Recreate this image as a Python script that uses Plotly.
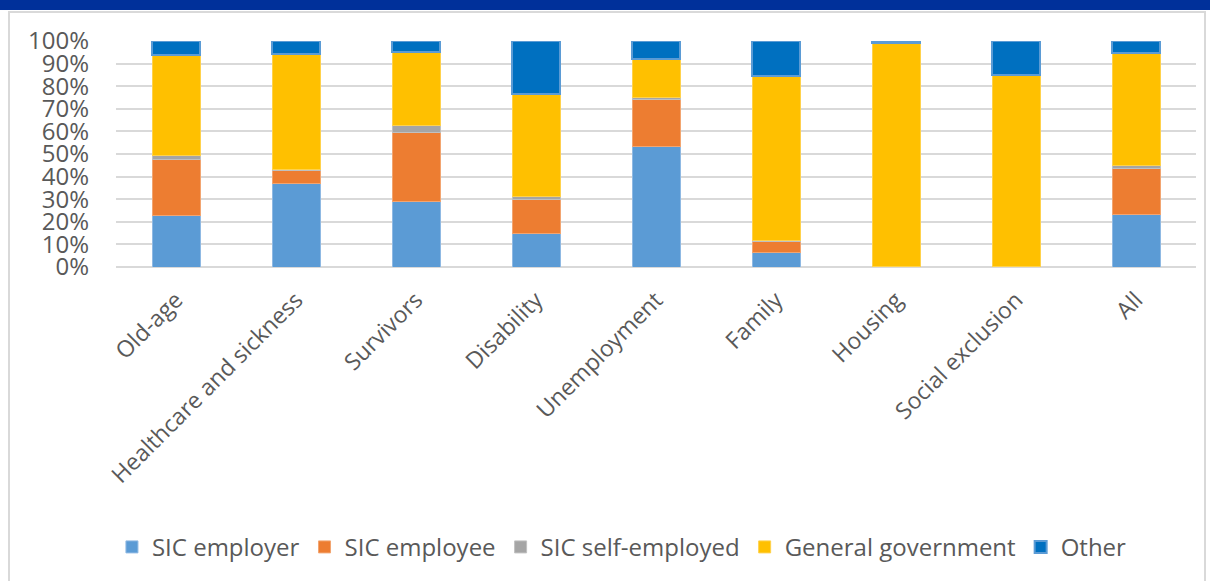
import plotly.graph_objects as go

categories = ["Old-age", "Healthcare and sickness", "Survivors", "Disability",
              "Unemployment", "Family", "Housing", "Social exclusion", "All"]

sic_employer = [23.0, 36.9, 28.8, 14.8, 53.4, 6.2, 0.1, 0.1, 23.2]
sic_employee = [24.6, 5.9, 30.9, 15.0, 20.7, 4.9, 0.2, 0.1, 20.3]
sic_self_employed = [1.8, 0.2, 2.7, 1.6, 1.1, 0.6, 0.0, 0.0, 1.5]
general_government = [44.3, 51.1, 32.7, 45.0, 16.7, 72.7, 99.0, 84.9, 49.7]
other = [6.3, 5.9, 4.9, 23.6, 8.1, 15.6, 0.7, 14.9, 5.3]

series = [
    ("SIC employer", sic_employer, "#5B9BD5", "#8FB9E3", 1),
    ("SIC employee", sic_employee, "#ED7D31", "#F2A571", 1),
    ("SIC self-employed", sic_self_employed, "#A5A5A5", "#C0C0C0", 1),
    ("General government", general_government, "#FFC000", "#FFD24D", 1),
    ("Other", other, "#0070C0", "#5B9BD5", 2),
]

fig = go.Figure()
for name, vals, color, lc, lw in series:
    fig.add_trace(go.Bar(
        x=categories, y=[v / 100 for v in vals], name=name,
        marker=dict(color=color, line=dict(color=lc, width=lw)),
        width=0.4,
    ))

font = "Open Sans, Liberation Sans, sans-serif"
W, H = 1210, 581
ML, MR, MT, MB = 116, 14, 41, 314
pw = W - ML - MR
ph = H - MT - MB


def px_x(x):
    return (x - ML) / pw


def px_y(y):
    return (H - MB - y) / ph


fig.update_layout(
    barmode="stack",
    width=W, height=H,
    margin=dict(l=ML, r=MR, t=MT, b=MB),
    paper_bgcolor="white", plot_bgcolor="white",
    font=dict(family=font, color="#595959", size=24),
    xaxis=dict(tickangle=-45, tickfont=dict(size=23, color="#595959"),
               showgrid=False, showline=False, ticks="",
               ticklabelstandoff=14),
    yaxis=dict(range=[0, 1], tickvals=[i / 10 for i in range(11)],
               tickformat=".0%", tickfont=dict(size=24, color="#595959"),
               gridcolor="#D9D9D9", gridwidth=2, zeroline=True,
               zerolinecolor="#D9D9D9", zerolinewidth=2, ticks="",
               showline=False, ticklabelstandoff=26),
    showlegend=True,
    legend=dict(orientation="h", xref="container", yref="container",
                x=0.514, xanchor="center", y=0.058, yanchor="middle",
                font=dict(size=24, color="#595959"), traceorder="normal"),
    shapes=[
        dict(type="rect", xref="paper", yref="paper",
             x0=px_x(0), x1=px_x(W), y0=px_y(10), y1=px_y(0),
             fillcolor="#00309A", line=dict(width=0), layer="below"),
        dict(type="rect", xref="paper", yref="paper",
             x0=px_x(9), x1=px_x(1205), y0=px_y(H + 10), y1=px_y(12),
             fillcolor="rgba(0,0,0,0)", line=dict(color="#D9D9D9", width=2),
             layer="below"),
    ],
)

fig.write_html("out.html",
               config={"displayModeBar": False},
               post_script="document.body.style.margin='0';")
